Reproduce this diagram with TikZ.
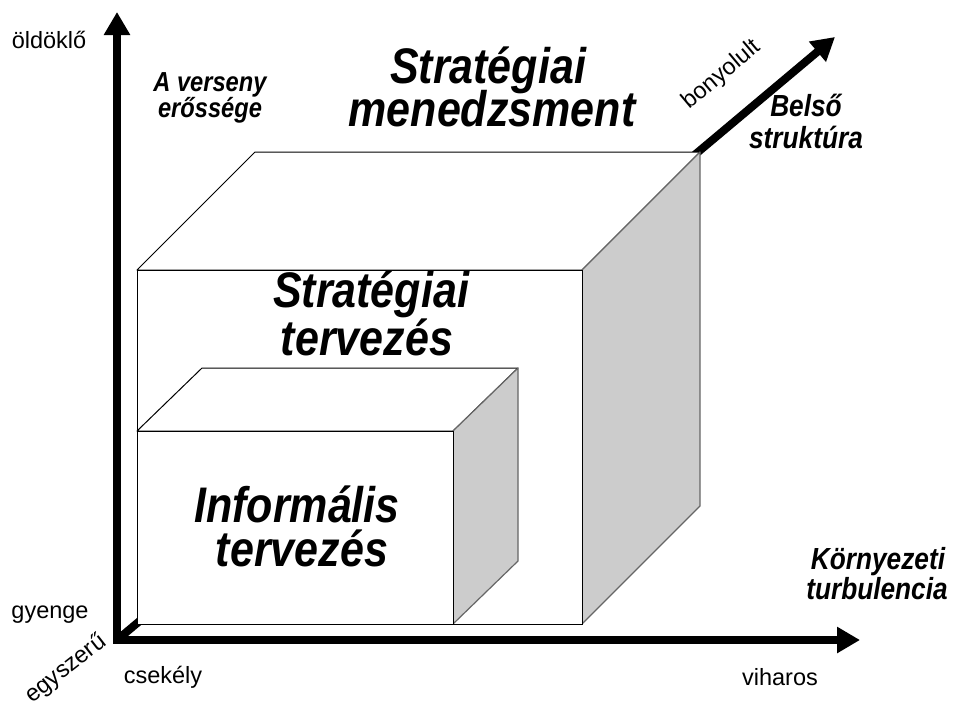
\documentclass[tikz,border=0pt]{standalone}
\usepackage{fontspec}
\setmainfont{Liberation Sans}
\newfontfamily\narrowsans[FakeStretch=0.86]{Liberation Sans}
\usetikzlibrary{arrows.meta}
\tikzset{
  axis/.style={line width=8pt, line join=miter, black},
  axistip/.style={-{Triangle[length=23pt,width=25pt]}},
  facefront/.style={fill=white, draw=black, line width=1pt},
  facetop/.style={fill=white, draw=black, line width=1pt, line join=round},
  faceside/.style={fill=black!20, draw=black!60, line width=1.2pt, line join=round},
  bigtitle/.style={font=\narrowsans\fontsize{50}{54}\selectfont\bfseries\itshape, inner sep=0pt, anchor=base},
  axtitle/.style={font=\narrowsans\fontsize{30.5}{34}\selectfont\bfseries\itshape, inner sep=0pt, anchor=base},
  axtitlesmall/.style={font=\narrowsans\fontsize{27.5}{31}\selectfont\bfseries\itshape, inner sep=0pt, anchor=base},
  tick/.style={font=\fontsize{23.5}{27}\selectfont, inner sep=0pt, anchor=base},
}
\begin{document}
\begin{tikzpicture}[x=1pt,y=-1pt]
\useasboundingbox (0,0) rectangle (955,702);

% axes
\coordinate (O) at (117,640);
\coordinate (Ytip) at (117,12);
\coordinate (Xtip) at (860,640);
\coordinate (Ztip) at (835,37);
\draw[axis, axistip] (O) -- (Ztip);
\draw[axis, {Triangle[length=23pt,width=25pt]}-{Triangle[length=23pt,width=25pt]}] (Ytip) -- (O) -- (Xtip);

% large box: strategic management / strategic planning
\coordinate (BA) at (137,624);
\coordinate (BB) at (582,624);
\coordinate (BC) at (582,270);
\coordinate (BD) at (137,270);
\coordinate (BE) at (255,152);
\coordinate (BF) at (700,152);
\coordinate (BG) at (700,506);
\draw[facetop] (BD) -- (BE) -- (BF) -- (BC) -- cycle;
\draw[faceside] (BC) -- (BF) -- (BG) -- (BB) -- cycle;
\draw[facefront] (BA) rectangle (BC);

% small box: informal planning
\coordinate (SA) at (137,624);
\coordinate (SB) at (453,624);
\coordinate (SC) at (453,431);
\coordinate (SD) at (137,431);
\coordinate (SE) at (202,368);
\coordinate (SF) at (518,368);
\coordinate (SG) at (518,561);
\draw[facetop] (SD) -- (SE) -- (SF) -- (SC) -- cycle;
\draw[faceside] (SC) -- (SF) -- (SG) -- (SB) -- cycle;
\draw[facefront] (SA) rectangle (SC);

% box titles
\node[bigtitle] (sm1) at (488,83) {Stratégiai};
\node[bigtitle] (sm2) at (492,126) {menedzsment};
\node[bigtitle] (st1) at (371,307) {Stratégiai};
\node[bigtitle] (st2) at (367,355) {tervezés};
\node[bigtitle] (it1) at (297,522) {Informális};
\node[bigtitle] (it2) at (302,566) {tervezés};

% axis titles
\node[axtitlesmall] (ya1) at (210,91) {A verseny};
\node[axtitlesmall] (ya2) at (210,117) {erőssége};
\node[axtitle] (za1) at (806,116) {Belső};
\node[axtitle] (za2) at (806,148) {struktúra};
\node[axtitle] (xa1) at (878,569) {Környezeti};
\node[axtitle] (xa2) at (877,599) {turbulencia};

% scale end labels
\node[tick] (yhi) at (49,48) {öldöklő};
\node[tick] (ylo) at (50,618) {gyenge};
\node[tick] (xlo) at (163,683) {csekély};
\node[tick] (xhi) at (780,685) {viharos};
\node[tick, anchor=center, rotate=40] (zhi) at (722,75) {bonyolult};
\node[tick, anchor=center, rotate=38] (zlo) at (66,669) {egyszerű};
\end{tikzpicture}
\end{document}
